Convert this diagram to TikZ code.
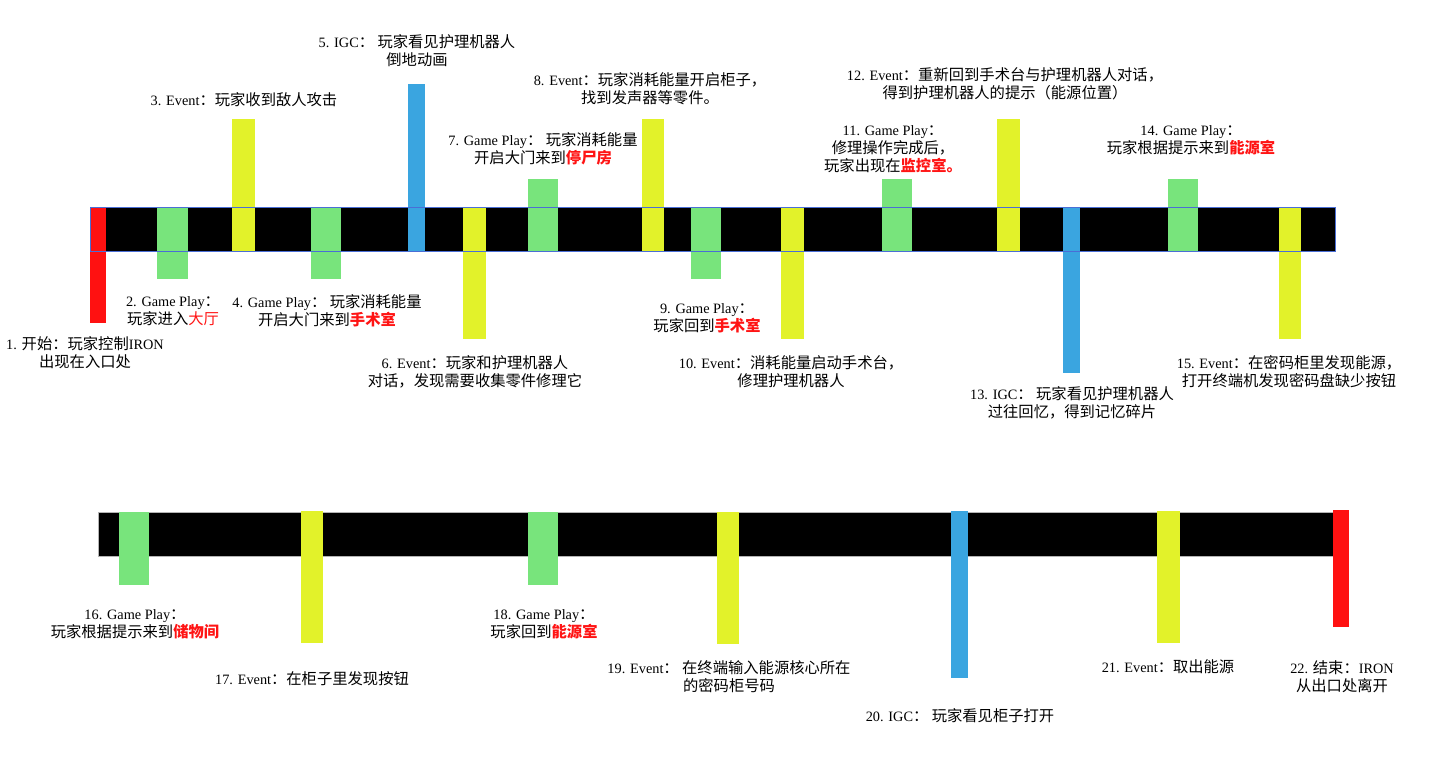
\documentclass[tikz,border=0pt]{standalone}
\usepackage{fontspec}
\setmainfont{Liberation Serif}
\newfontfamily\cjkf{Noto Sans CJK SC}[Scale=1.07]
\newcommand\zh[1]{{\cjkf #1}}
\newcommand\hl[1]{{\cjkf\bfseries\color{hired}#1}}
\definecolor{gpgreen}{RGB}{120,228,124}
\definecolor{evyellow}{RGB}{226,242,42}
\definecolor{igcblue}{RGB}{58,165,224}
\definecolor{sered}{RGB}{255,17,17}
\definecolor{hired}{RGB}{255,20,20}
\definecolor{barline}{RGB}{74,110,214}
\definecolor{barlinegray}{RGB}{180,180,180}
\tikzset{
  gp/.style={fill=gpgreen},
  ev/.style={fill=evyellow},
  igc/.style={fill=igcblue},
  se/.style={fill=sered},
  lbl/.style={align=center,inner sep=0pt,font=\fontsize{14.3}{18}\selectfont},
}
\begin{document}
\begin{tikzpicture}[x=1pt,y=-1pt]
\useasboundingbox (0,0) rectangle (1441,767);
% ---------- top timeline ----------
\fill[black] (90,207) rectangle (1335,251);
\fill[se]  (90,207) rectangle (106,323);
\fill[gp]  (157,207) rectangle (188,279);
\fill[ev]  (232,119) rectangle (255,251);
\fill[gp]  (311,207) rectangle (341,279);
\fill[igc] (408,84) rectangle (425,251);
\fill[ev]  (463,207) rectangle (486,339);
\fill[gp]  (528,179) rectangle (558,251);
\fill[ev]  (642,119) rectangle (664,251);
\fill[gp]  (691,207) rectangle (721,279);
\fill[ev]  (781,207) rectangle (804,339);
\fill[gp]  (882,179) rectangle (912,251);
\fill[ev]  (997,119) rectangle (1020,251);
\fill[igc] (1063,207) rectangle (1080,373);
\fill[gp]  (1168,179) rectangle (1198,251);
\fill[ev]  (1279,207) rectangle (1301,339);
\draw[barline,line width=0.8pt] (90,207) rectangle (1335,251);
% ---------- bottom timeline ----------
\fill[black] (98,512) rectangle (1333,556);
\draw[barlinegray,line width=0.6pt] (98,512) rectangle (1333,556);
\fill[gp]  (119,512) rectangle (149,585);
\fill[ev]  (301,511) rectangle (323,643);
\fill[gp]  (528,512) rectangle (558,585);
\fill[ev]  (717,512) rectangle (739,644);
\fill[igc] (951,511) rectangle (968,678);
\fill[ev]  (1157,511) rectangle (1180,643);
\fill[se]  (1333,510) rectangle (1349,627);
% ---------- labels top ----------
\node[lbl] (l1)  at (85,353)  {1. \zh{开始：玩家控制}IRON\\\zh{出现在入口处}};
\node[lbl] (l2)  at (173,311) {2. Game Play\zh{：}\\\zh{玩家进入{\color{hired}大厅}}};
\node[lbl] (l3)  at (244,100) {3. Event\zh{：玩家收到敌人攻击}};
\node[lbl] (l4)  at (327,311) {4. Game Play\zh{： 玩家消耗能量}\\\zh{开启大门来到}\hl{手术室}};
\node[lbl] (l5)  at (417,51)  {5. IGC\zh{： 玩家看见护理机器人}\\\zh{倒地动画}};
\node[lbl] (l6)  at (475,372) {6. Event\zh{：玩家和护理机器人}\\\zh{对话，发现需要收集零件修理它}};
\node[lbl] (l7)  at (543,149) {7. Game Play\zh{： 玩家消耗能量}\\\zh{开启大门来到}\hl{停尸房}};
\node[lbl] (l8)  at (650,89)  {8. Event\zh{：玩家消耗能量开启柜子，}\\\zh{找到发声器等零件。}};
\node[lbl] (l9)  at (707,318) {9. Game Play\zh{：}\\\zh{玩家回到}\hl{手术室}};
\node[lbl] (l10) at (791,372) {10. Event\zh{：消耗能量启动手术台，}\\\zh{修理护理机器人}};
\node[lbl] (l11) at (893,149) {11. Game Play\zh{：}\\\zh{修理操作完成后，}\\\zh{玩家出现在}\hl{监控室。}};
\node[lbl] (l12) at (1005,84) {12. Event\zh{：重新回到手术台与护理机器人对话，}\\\zh{得到护理机器人的提示（能源位置）}};
\node[lbl] (l13) at (1072,403) {13. IGC\zh{： 玩家看见护理机器人}\\\zh{过往回忆，得到记忆碎片}};
\node[lbl] (l14) at (1191,140) {14. Game Play\zh{：}\\\zh{玩家根据提示来到}\hl{能源室}};
\node[lbl] (l15) at (1289,372) {15. Event\zh{：在密码柜里发现能源，}\\\zh{打开终端机发现密码盘缺少按钮}};
% ---------- labels bottom ----------
\node[lbl] (l16) at (135,624) {16. Game Play\zh{：}\\\zh{玩家根据提示来到}\hl{储物间}};
\node[lbl] (l17) at (312,679) {17. Event\zh{：在柜子里发现按钮}};
\node[lbl] (l18) at (544,624) {18. Game Play\zh{：}\\\zh{玩家回到}\hl{能源室}};
\node[lbl] (l19) at (729,677) {19. Event\zh{： 在终端输入能源核心所在}\\\zh{的密码柜号码}};
\node[lbl] (l20) at (960,716) {20. IGC\zh{： 玩家看见柜子打开}};
\node[lbl] (l21) at (1168,667) {21. Event\zh{：取出能源}};
\node[lbl] (l22) at (1342,677) {22. \zh{结束：}IRON\\\zh{从出口处离开}};
\end{tikzpicture}
\end{document}
